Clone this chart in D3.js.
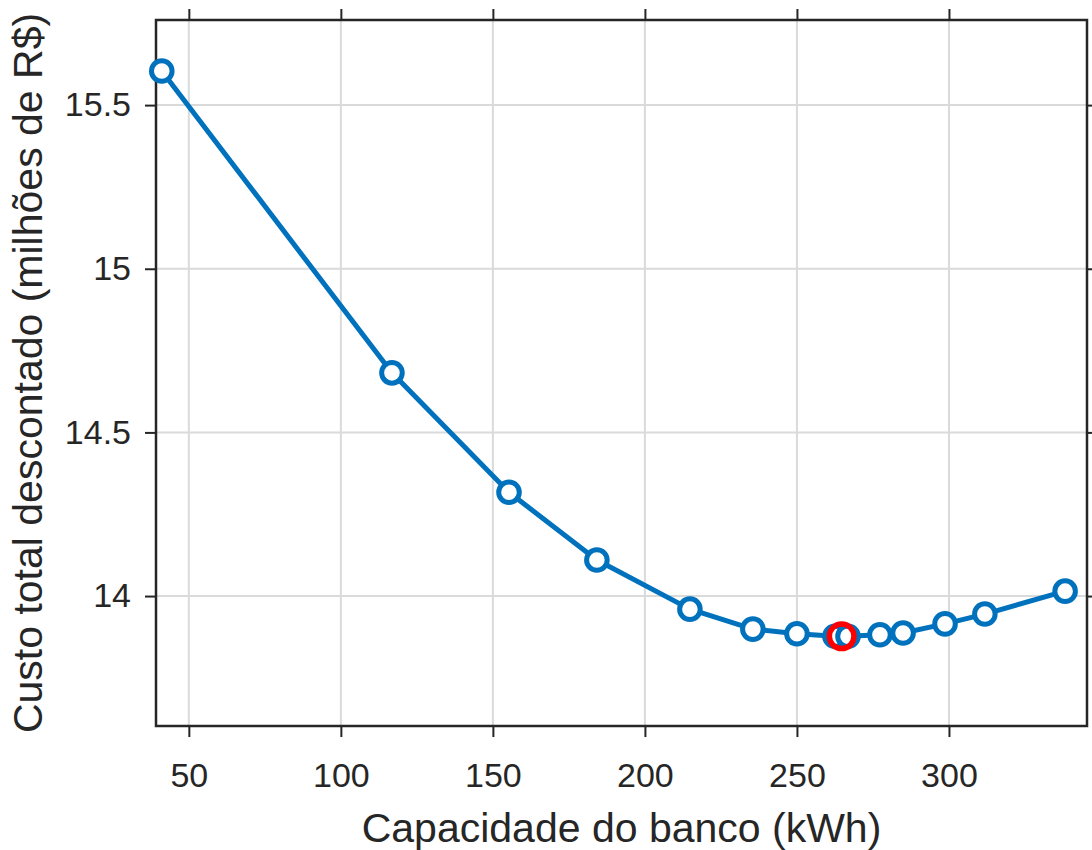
<!DOCTYPE html>
<html>
<head>
<meta charset="utf-8">
<script src="https://cdn.jsdelivr.net/npm/d3@7"></script>
<style>
  html, body { margin: 0; padding: 0; background: #fff; }
  svg { display: block; font-family: "Liberation Sans", Arial, sans-serif; }
</style>
</head>
<body>
<svg id="chart" width="1092" height="850"></svg>
<script>
// Bank capacity (kWh) vs. total discounted cost (million R$)
const capacity = [41.1, 116.8, 155.3, 184.2, 214.8, 235.5, 250.0, 262.5, 266.8, 277.3, 284.9, 298.7, 311.8, 338.2];
const cost     = [15.604, 14.682, 14.317, 14.110, 13.960, 13.899, 13.885, 13.877, 13.877, 13.882, 13.887, 13.915, 13.945, 14.015];

// Optimal point
const optCapacity = [264.7];
const optCost = [13.877];

const xTicks = [50, 100, 150, 200, 250, 300];
const yTicks = [14, 14.5, 15, 15.5];
const xTickLabels = ["50", "100", "150", "200", "250", "300"];
const yTickLabels = ["14", "14.5", "15", "15.5"];

const xLabel = "Capacidade do banco (kWh)";
const yLabel = "Custo total descontado (milhões de R$)";

const margin = { left: 156, right: 5, top: 20, bottom: 124 };
const W = 1092, H = 850;
const pw = W - margin.left - margin.right;
const ph = H - margin.top - margin.bottom;

const svg = d3.select("#chart");
const g = svg.append("g").attr("transform", `translate(${margin.left},${margin.top})`);

const x = d3.scaleLinear().domain([39.2, 345.4]).range([0, pw]);
const y = d3.scaleLinear().domain([13.603, 15.76]).range([ph, 0]);

const axisColor = "#262626";
const gridColor = "#dadada";

// grid
g.append("g").selectAll("line").data(xTicks).join("line")
  .attr("x1", d => x(d)).attr("x2", d => x(d))
  .attr("y1", 0).attr("y2", ph)
  .attr("stroke", gridColor).attr("stroke-width", 2);
g.append("g").selectAll("line").data(yTicks).join("line")
  .attr("x1", 0).attr("x2", pw)
  .attr("y1", d => y(d)).attr("y2", d => y(d))
  .attr("stroke", gridColor).attr("stroke-width", 2);

// axes
function styleAxis(sel, showText) {
  sel.select(".domain").remove();
  sel.selectAll(".tick line").attr("stroke", axisColor).attr("stroke-width", 2);
  sel.selectAll(".tick text")
    .attr("fill", axisColor)
    .style("font-size", "34px")
    .style("display", showText ? null : "none");
}

const tickLen = 11;
const xFmt = (d) => xTickLabels[xTicks.indexOf(d)];
const yFmt = (d) => yTickLabels[yTicks.indexOf(d)];

const axisB = g.append("g").attr("transform", `translate(0,${ph})`)
  .call(d3.axisBottom(x).tickValues(xTicks).tickFormat(xFmt).tickSize(tickLen).tickPadding(26));
styleAxis(axisB, true);

const axisT = g.append("g")
  .call(d3.axisTop(x).tickValues(xTicks).tickFormat(xFmt).tickSize(tickLen));
styleAxis(axisT, false);

const axisL = g.append("g")
  .call(d3.axisLeft(y).tickValues(yTicks).tickFormat(yFmt).tickSize(tickLen).tickPadding(14));
styleAxis(axisL, true);

const axisR = g.append("g").attr("transform", `translate(${pw},0)`)
  .call(d3.axisRight(y).tickValues(yTicks).tickFormat(yFmt).tickSize(6));
styleAxis(axisR, false);

// box
g.append("rect").attr("x", 0).attr("y", 0).attr("width", pw).attr("height", ph)
  .attr("fill", "none").attr("stroke", axisColor).attr("stroke-width", 2.5);

// data line
const pts = capacity.map((c, i) => [c, cost[i]]);
const blue = "#0072BD";
g.append("path").datum(pts)
  .attr("d", d3.line().x(d => x(d[0])).y(d => y(d[1])))
  .attr("fill", "none").attr("stroke", blue).attr("stroke-width", 5)
  .attr("stroke-linejoin", "round");

g.append("g").selectAll("circle").data(pts).join("circle")
  .attr("cx", d => x(d[0])).attr("cy", d => y(d[1])).attr("r", 10.3)
  .attr("fill", "#fff").attr("stroke", blue).attr("stroke-width", 5);

// optimum marker
g.append("g").selectAll("circle").data(optCapacity.map((c, i) => [c, optCost[i]])).join("circle")
  .attr("cx", d => x(d[0])).attr("cy", d => y(d[1])).attr("r", 12.3)
  .attr("fill", "none").attr("stroke", "#FF0000").attr("stroke-width", 5.5);

// axis titles
svg.append("text")
  .attr("x", margin.left + pw / 2).attr("y", 842)
  .attr("text-anchor", "middle").attr("fill", axisColor)
  .style("font-size", "41px").text(xLabel);

svg.append("text")
  .attr("transform", `translate(42,${margin.top + ph / 2}) rotate(-90)`)
  .attr("text-anchor", "middle").attr("fill", axisColor)
  .style("font-size", "41px").text(yLabel);
</script>
</body>
</html>
